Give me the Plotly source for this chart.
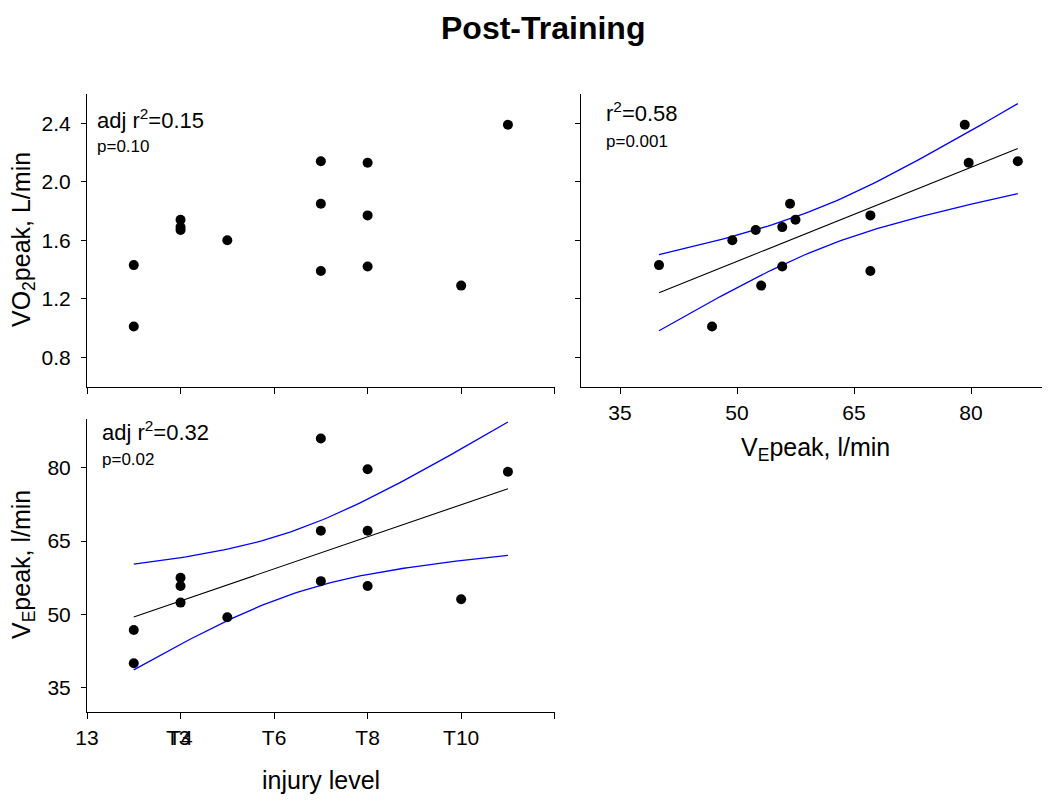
import numpy as np
import plotly.graph_objects as go

# ---- data ----
injury_level = [3, 3, 4, 4, 4, 5, 7, 7, 7, 8, 8, 8, 10, 11]
ve_peak = [40.0, 46.8, 57.5, 55.8, 52.4, 49.4, 86.0, 56.8, 67.1, 79.7, 67.1, 55.8, 53.1, 79.2]
vo2_peak = [1.43, 1.01, 1.74, 1.69, 1.67, 1.60, 2.14, 1.85, 1.39, 2.13, 1.77, 1.42, 1.29, 2.39]

level_tickvals = [2, 4, 6, 8, 10, 12]
level_ticktext = ["13", "T4", "T6", "T8", "T10", ""]
vo2_ticks = [0.8, 1.2, 1.6, 2.0, 2.4]
ve_ticks = [35, 50, 65, 80]

FONT = "Liberation Sans, Arial, sans-serif"
# page body has an 8px margin: lay the figure out in window pixels shifted by it
OX, OY = 8, 8
W, H = 1042, 794


def px(X):
    return (X - OX) / W


def py(Y):
    return 1 - (Y - OY) / H


def fit_with_band(x, y, n=80, t=2.1788):
    x = np.asarray(x, float)
    y = np.asarray(y, float)
    b, a = np.polyfit(x, y, 1)
    xs = np.linspace(x.min(), x.max(), n)
    ys = a + b * xs
    resid = y - (a + b * x)
    s = np.sqrt(np.sum(resid ** 2) / (len(x) - 2))
    sxx = np.sum((x - x.mean()) ** 2)
    se = s * np.sqrt(1.0 / len(x) + (xs - x.mean()) ** 2 / sxx)
    return xs, ys, ys + t * se, ys - t * se


fig = go.Figure()

dot = dict(color="black", size=10)

# top-left: injury level vs VO2
fig.add_trace(go.Scatter(x=injury_level, y=vo2_peak, mode="markers", marker=dot,
                         xaxis="x", yaxis="y", showlegend=False))

# top-right: VE vs VO2 with fit & CI
xs, ys, up, lo = fit_with_band(ve_peak, vo2_peak)
for yy, col, w in [(up, "#0000FF", 1.3), (lo, "#0000FF", 1.3), (ys, "black", 1.1)]:
    fig.add_trace(go.Scatter(x=xs, y=yy, mode="lines", line=dict(color=col, width=w),
                             xaxis="x2", yaxis="y2", showlegend=False))
fig.add_trace(go.Scatter(x=ve_peak, y=vo2_peak, mode="markers", marker=dot,
                         xaxis="x2", yaxis="y2", showlegend=False))

# bottom-left: injury level vs VE with fit & CI
xs, ys, up, lo = fit_with_band(injury_level, ve_peak)
for yy, col, w in [(up, "#0000FF", 1.3), (lo, "#0000FF", 1.3), (ys, "black", 1.1)]:
    fig.add_trace(go.Scatter(x=xs, y=yy, mode="lines", line=dict(color=col, width=w),
                             xaxis="x3", yaxis="y3", showlegend=False))
fig.add_trace(go.Scatter(x=injury_level, y=ve_peak, mode="markers", marker=dot,
                         xaxis="x3", yaxis="y3", showlegend=False))

TICK_SIZE = 21
ax_common = dict(showline=True, linecolor="black", linewidth=1, ticks="outside",
                 tickcolor="black", tickwidth=1, showgrid=False, zeroline=False,
                 automargin=False,
                 tickfont=dict(family=FONT, size=TICK_SIZE, color="black"))

dom_x_left = [px(87), px(554.7)]
dom_x_right = [px(581), px(1049)]
dom_y_top = [py(386.5), py(94)]
dom_y_bot = [py(712), py(419)]

fig.update_layout(
    width=W, height=H, margin=dict(l=0, r=0, t=0, b=0, pad=0),
    paper_bgcolor="white", plot_bgcolor="white",
    xaxis=dict(domain=dom_x_left, range=[2, 12], anchor="y", tickvals=level_tickvals,
               showticklabels=False, ticklen=6, **ax_common),
    yaxis=dict(domain=dom_y_top, range=[0.6, 2.6], anchor="x", tickvals=vo2_ticks,
               tickformat=".1f", ticklen=5, ticklabelstandoff=6, **ax_common),
    xaxis2=dict(domain=dom_x_right, range=[30, 90], anchor="y2", tickvals=ve_ticks,
                ticklen=6, ticklabelstandoff=1, **ax_common),
    yaxis2=dict(domain=dom_y_top, range=[0.6, 2.6], anchor="x2", tickvals=vo2_ticks,
                showticklabels=False, ticklen=5, **ax_common),
    xaxis3=dict(domain=dom_x_left, range=[2, 12], anchor="y3", tickvals=level_tickvals,
                ticktext=level_ticktext, ticklen=6, ticklabelstandoff=1, **ax_common),
    yaxis3=dict(domain=dom_y_bot, range=[30, 90], anchor="x3", tickvals=ve_ticks,
                ticklen=5, ticklabelstandoff=6, **ax_common),
)


def ann(text, x, y, size, xanchor="left", yanchor="middle", textangle=0, **kw):
    fig.add_annotation(text=text, x=px(x), y=py(y), xref="paper", yref="paper",
                       showarrow=False, xanchor=xanchor, yanchor=yanchor,
                       textangle=textangle,
                       font=dict(family=FONT, size=size, color="black"), **kw)


ann("<b>Post-Training</b>", 543, 8, 32, xanchor="center", yanchor="top")
# stats text
ann("adj r<sup>2</sup>=0.15", 95, 119, 22)
ann("p=0.10", 95, 146, 17)
ann("r<sup>2</sup>=0.58", 604, 112, 22)
ann("p=0.001", 604, 142, 17)
ann("adj r<sup>2</sup>=0.32", 100, 431, 22)
ann("p=0.02", 100, 459, 17)
# axis titles
ann("VO<sub>2</sub>peak, L/min", 23, 240, 25, xanchor="center", textangle=-90)
ann("V<sub>E</sub>peak, l/min", 23, 565, 25, xanchor="center", textangle=-90)
ann("V<sub>E</sub>peak, l/min", 815, 449, 25, xanchor="center")
ann("injury level", 321, 780, 25, xanchor="center")
# overlapping "T3" label at the T4 tick
fig.add_annotation(text="T3", x=4, y=py(737), xref="x3", yref="paper", showarrow=False,
                   xanchor="center", yanchor="middle", xshift=-2,
                   font=dict(family=FONT, size=TICK_SIZE, color="black"))

fig.write_html("out.html")
